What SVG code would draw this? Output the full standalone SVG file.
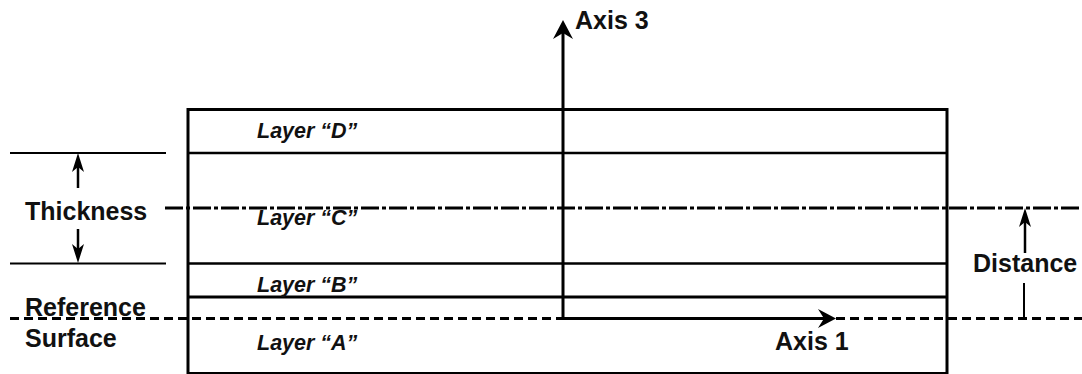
<svg xmlns="http://www.w3.org/2000/svg" width="1082" height="374" viewBox="0 0 1082 374">
<style>
.lbl{font-family:"Liberation Sans",Arial,sans-serif;font-weight:bold;font-size:25px;fill:#111}
.lay{font-family:"Liberation Sans",Arial,sans-serif;font-weight:bold;font-style:italic;font-size:21.5px;fill:#111}
.ln{stroke:#000;fill:none}
.head{fill:#000;stroke:none}
</style>
<rect width="1082" height="374" fill="#fff"/>
<g id="layers">
  <rect x="188" y="109.5" width="759" height="264" class="ln" stroke-width="3"/>
  <line x1="188" y1="153" x2="947" y2="153" class="ln" stroke-width="2.5"/>
  <line x1="188" y1="263.5" x2="947" y2="263.5" class="ln" stroke-width="2.5"/>
  <line x1="188" y1="297" x2="947" y2="297" class="ln" stroke-width="3"/>
</g>
<g id="layer-labels">
  <text class="lay" x="257" y="138">Layer “D”</text>
  <text class="lay" x="257" y="225">Layer “C”</text>
  <text class="lay" x="257" y="292">Layer “B”</text>
  <text class="lay" x="257" y="350">Layer “A”</text>
</g>
<g id="connectors">
  <line x1="165" y1="208" x2="1082" y2="208" class="ln" stroke-width="3" stroke-dasharray="18 3 4 3"/>
  <line x1="10" y1="318.5" x2="1082" y2="318.5" class="ln" stroke-width="3" stroke-dasharray="9 5"/>
  <line x1="10" y1="153" x2="166" y2="153" class="ln" stroke-width="2"/>
  <line x1="10" y1="263.5" x2="166" y2="263.5" class="ln" stroke-width="2"/>
  <line x1="78" y1="188" x2="78" y2="165" class="ln" stroke-width="2.5"/>
  <path class="head" d="M78,153 L72,172 L78,167 L84,172 Z"/>
  <line x1="78" y1="229" x2="78" y2="251" class="ln" stroke-width="2.5"/>
  <path class="head" d="M78,263 L72,244 L78,249 L84,244 Z"/>
  <line x1="1025" y1="253" x2="1025" y2="220" class="ln" stroke-width="2.5"/>
  <path class="head" d="M1025,208 L1019,227 L1025,222 L1031,227 Z"/>
  <line x1="1024" y1="283" x2="1024" y2="318" class="ln" stroke-width="2"/>
</g>
<g id="axis3">
  <line x1="563" y1="320" x2="563" y2="32" class="ln" stroke-width="3"/>
  <path class="head" d="M563,20 L553,39 L563,33 L573,39 Z"/>
  <text class="lbl" x="575" y="29">Axis 3</text>
</g>
<g id="axis1">
  <line x1="561.5" y1="318.5" x2="826" y2="318.5" class="ln" stroke-width="3"/>
  <path class="head" d="M836,318.5 L818,309 L824,318.5 L818,328 Z"/>
  <text class="lbl" x="775" y="350">Axis 1</text>
</g>
<g id="dimension-labels">
  <text class="lbl" x="25" y="220">Thickness</text>
  <text class="lbl" x="25" y="316">Reference</text>
  <text class="lbl" x="25" y="347">Surface</text>
  <text class="lbl" x="973" y="272">Distance</text>
</g>
</svg>
